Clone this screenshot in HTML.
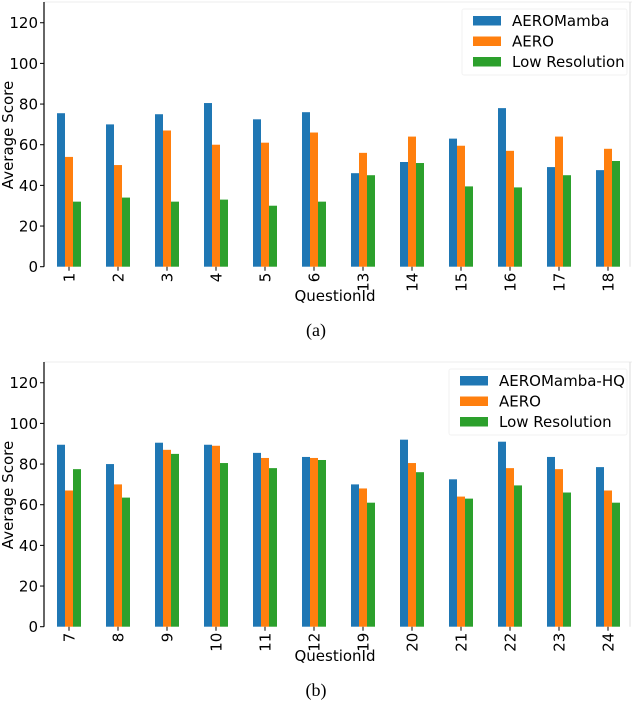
<!DOCTYPE html>
<html><head><meta charset="utf-8"><style>
body{margin:0;background:#fff;width:632px;height:702px;overflow:hidden}
svg{font-family:"DejaVu Sans","Liberation Sans",sans-serif}
</style></head><body>
<svg id="s" width="632" height="702"></svg>
<script>
const categoriesA=["1","2","3","4","5","6","13","14","15","16","17","18"];
const mambaA=[75.5,70,75,80.5,72.5,76,46,51.5,63,78,49,47.5];
const aeroA=[54,50,67,60,61,66,56,64,59.5,57,64,58];
const lowA=[32,34,32,33,30,32,45,51,39.5,39,45,52];
const categoriesB=["7","8","9","10","11","12","19","20","21","22","23","24"];
const mambaB=[89.5,80,90.5,89.5,85.5,83.5,70,92,72.5,91,83.5,78.5];
const aeroB=[67,70,87,89,83,83,68,80.5,64,78,77.5,67];
const lowB=[77.5,63.5,85,80.5,78,82,61,76,63,69.5,66,61];
const yTicks=[0,20,40,60,80,100,120];
const colors=["#1f77b4","#ff7f0e","#2ca02c"];
const NS="http://www.w3.org/2000/svg";
const svg=document.getElementById('s');
function mk(t,a,p){const e=document.createElementNS(NS,t);for(const k in a)e.setAttribute(k,a[k]);(p||svg).appendChild(e);return e;}
function chart(oy,cats,series,names,tag,legX,caption){
  const g=mk('g',{});
  
  
  const y0=oy+266.7,py=2.033;
  const Y=v=>y0-v*py;
  const X=i=>69+i*49;
  mk('line',{x1:44,y1:oy+2,x2:632,y2:oy+2,stroke:'#ececec'},g);
  mk('line',{x1:630,y1:oy+2,x2:630,y2:y0,stroke:'#ddd'},g);
  yTicks.forEach(t=>{
    mk('line',{x1:40,x2:44,y1:Y(t),y2:Y(t),stroke:'#000'},g);
    const tx=mk('text',{x:38,y:Y(t)+5.5,'text-anchor':'end','font-size':15},g);tx.textContent=t;
    
    
  });
  cats.forEach((c,i)=>{
    series.forEach((s,k)=>{
      const r=mk('rect',{x:X(i)-12+k*8,y:Y(s[i]),width:8,height:s[i]*py,fill:colors[k]},g);
      
      
    });
    mk('line',{x1:X(i),x2:X(i),y1:y0,y2:y0+4,stroke:'#000'},g);
    const t=mk('text',{transform:`translate(${X(i)+5.5},${y0+6}) rotate(-90)`,'text-anchor':'end','font-size':15},g);t.textContent=c;
    
    
  });
  mk('line',{x1:44,y1:oy+2,x2:44,y2:y0,stroke:'#000','stroke-width':1.2},g);
  const xl=mk('text',{x:335,y:oy+301,'text-anchor':'middle','font-size':15},g);xl.textContent='QuestionId';
  
  
  const yl=mk('text',{transform:`translate(13,${oy+135}) rotate(-90)`,'text-anchor':'middle','font-size':15},g);yl.textContent='Average Score';
  
  
  const lg=mk('g',{},g);
  
  
  mk('rect',{x:legX-11,y:oy+9,width:630-legX+8,height:66,fill:'#fff',stroke:'#f2f2f2',rx:2},lg);
  names.forEach((n,k)=>{
    mk('rect',{x:legX,y:oy+16+k*20.5,width:28,height:9.5,fill:colors[k]},lg);
    const t=mk('text',{x:legX+39,y:oy+26+k*20.5,'font-size':15},lg);t.textContent=n;
    
    
  });
  const cp=mk('text',{x:316,y:oy+336,'text-anchor':'middle','font-size':18,'font-family':'Liberation Serif, serif'},g);cp.textContent=caption;
  
  
}
chart(0,categoriesA,[mambaA,aeroA,lowA],["AEROMamba","AERO","Low Resolution"],'a',473,'(a)');
chart(360,categoriesB,[mambaB,aeroB,lowB],["AEROMamba-HQ","AERO","Low Resolution"],'b',460,'(b)');
</script>
</body></html>
